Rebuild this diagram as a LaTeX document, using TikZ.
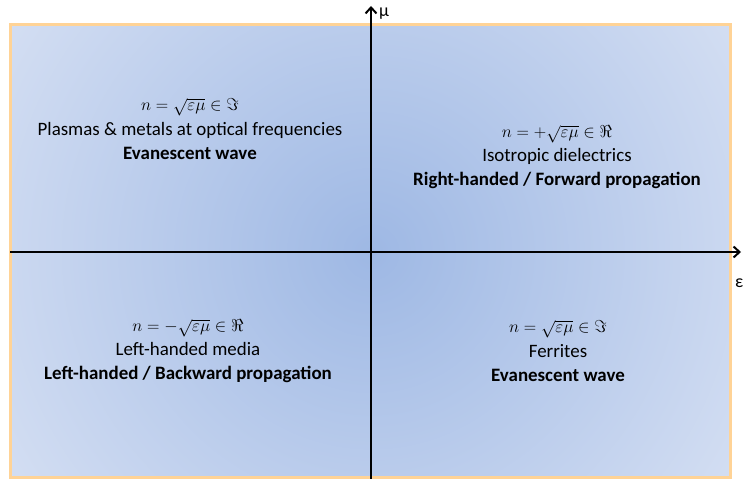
\documentclass[tikz,border=0pt]{standalone}
\usepackage{amsmath}
\usepackage{amssymb}
\usepackage{fontspec}
\setmainfont{Carlito}
\usetikzlibrary{arrows.meta, positioning}
\definecolor{glowin}{RGB}{158,184,228}
\definecolor{glowout}{RGB}{228,234,247}
\definecolor{rim}{RGB}{255,211,150}
\pgfdeclareradialshading{planeglow}{\pgfpoint{0bp}{0bp}}{color(0bp)=(glowin); color(32bp)=(glowout); color(50bp)=(glowout)}
\tikzset{
    axis/.style={line width=2.4bp, -{Straight Barb[length=6bp, width=11bp, line width=2bp]}},
    quadrant/.style={align=center, inner sep=0pt, font=\fontsize{19}{24.5}\selectfont},
    axislabel/.style={inner sep=0pt, font=\fontsize{18}{20}\selectfont},
}

\begin{document}
\begin{tikzpicture}[x=1bp, y=-1bp]
    \useasboundingbox (0,0) rectangle (744,479);

    % the plane, lighter away from the origin
    \begin{scope}
        \clip (10,25) rectangle (730,477);
        \shade[shading=planeglow] (371,252) circle (440);
    \end{scope}
    \draw[rim, line width=3bp] (10,25) rectangle (730,477);

    % axes
    \coordinate (west) at (10,252);
    \coordinate (east) at (741,252);
    \coordinate (south) at (371,479);
    \coordinate (north) at (371,6);
    \draw[axis] (west) -- (east);
    \draw[axis] (south) -- (north);
    \node[axislabel, anchor=west] (eps) at (735,283) {ε};
    \node[axislabel, anchor=west] (mu) at (379,14) {μ};

    % the four media
    \node[quadrant] (plasma) at (190,129)
        {$n=\sqrt{\varepsilon\mu}\in\Im$\\ Plasmas \& metals at optical frequencies\\ \textbf{Evanescent wave}};
    \node[quadrant] (dielectric) at (557,157)
        {$n=+\sqrt{\varepsilon\mu}\in\Re$\\ Isotropic dielectrics\\ \textbf{Right-handed / Forward propagation}};
    \node[quadrant] (lefthanded) at (188,351)
        {$n=-\sqrt{\varepsilon\mu}\in\Re$\\ Left-handed media\\ \textbf{Left-handed / Backward propagation}};
    \node[quadrant] (ferrite) at (558,351)
        {$n=\sqrt{\varepsilon\mu}\in\Im$\\ Ferrites\\ \textbf{Evanescent wave}};
\end{tikzpicture}
\end{document}
